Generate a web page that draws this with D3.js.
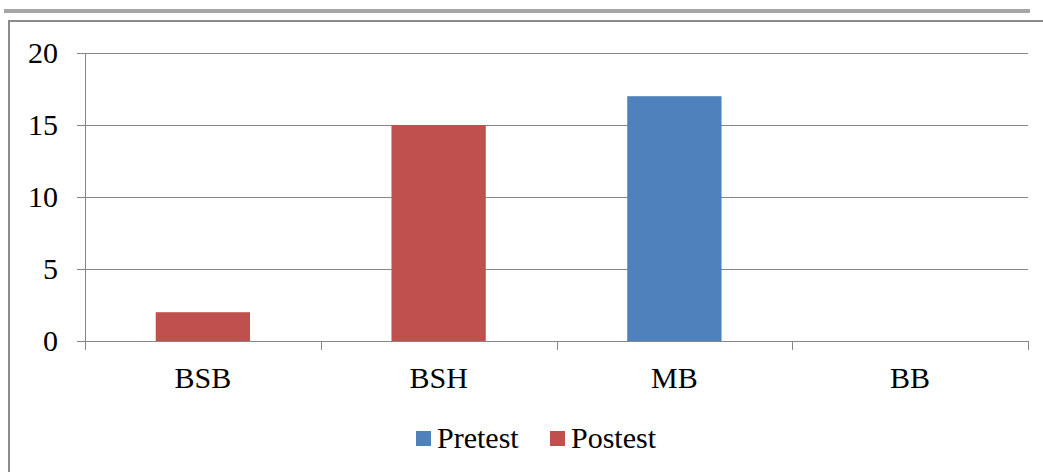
<!DOCTYPE html>
<html>
<head>
<meta charset="utf-8">
<script src="https://cdn.jsdelivr.net/npm/d3@7"></script>
<style>
  html, body { margin: 0; padding: 0; background: #fff; }
  svg { display: block; }
</style>
</head>
<body>
<script>
const categories = ["BSB", "BSH", "MB", "BB"];
const seriesNames = ["Pretest", "Postest"];
const pretest = [0, 0, 17, 0];
const postest = [2, 15, 0, 0];
const yTicks = [0, 5, 10, 15, 20];
const colors = ["#4F81BD", "#C0504D"];

const FONT = "'Liberation Serif'";
const W = 1043, H = 472;
const svg = d3.select("body").append("svg").attr("width", W).attr("height", H);

// outer decorations (document frame)
svg.append("rect").attr("x", 4).attr("y", 9).attr("width", 1026).attr("height", 4).attr("fill", "#a6a6a6");
svg.append("line").attr("x1", 8).attr("x2", W).attr("y1", 21).attr("y2", 21).attr("stroke", "#8a8a8a").attr("stroke-width", 2);
svg.append("line").attr("x1", 9).attr("x2", 9).attr("y1", 20).attr("y2", H).attr("stroke", "#8a8a8a").attr("stroke-width", 2);

const plotL = 85, plotR = 1028, plotT = 53, plotB = 341;

const x = d3.scaleBand().domain(categories).range([plotL, plotR]).paddingInner(0.6).paddingOuter(0.3);
const y = d3.scaleLinear().domain([0, 20]).range([plotB, plotT]);

// gridlines
svg.append("g").selectAll("line").data(yTicks).join("line")
  .attr("x1", plotL).attr("x2", plotR)
  .attr("y1", d => y(d) + 0.5).attr("y2", d => y(d) + 0.5)
  .attr("stroke", "#868686").attr("stroke-width", 1);

// y axis
const yAxis = d3.axisLeft(y).tickValues(yTicks).tickSize(8).tickPadding(19).tickFormat(d3.format("d"));
const gy = svg.append("g").attr("transform", `translate(${plotL},0)`).call(yAxis);
gy.attr("font-family", FONT).attr("font-size", 30);
gy.select(".domain").attr("stroke", "#868686");
gy.selectAll(".tick line").attr("stroke", "#868686");
gy.selectAll(".tick text").attr("font-family", FONT).attr("font-size", 30).attr("fill", "#000");

// stacked bars
const table = categories.map((c, i) => ({ cat: c, Pretest: pretest[i], Postest: postest[i] }));
const stacked = d3.stack().keys(seriesNames)(table);
svg.append("g").selectAll("g").data(stacked).join("g")
  .attr("fill", (d, i) => colors[i])
  .selectAll("rect").data(d => d.filter(v => v[1] - v[0] > 0)).join("rect")
  .attr("x", d => x(d.data.cat))
  .attr("width", x.bandwidth())
  .attr("y", d => y(d[1]))
  .attr("height", d => y(d[0]) - y(d[1]));

// x axis
svg.append("line").attr("x1", plotL).attr("x2", plotR).attr("y1", plotB + 0.5).attr("y2", plotB + 0.5).attr("stroke", "#868686");
const bounds = d3.range(categories.length + 1).map(i => plotL + i * (plotR - plotL) / categories.length);
svg.append("g").selectAll("line").data(bounds).join("line")
  .attr("x1", d => Math.round(d) + 0.5).attr("x2", d => Math.round(d) + 0.5)
  .attr("y1", plotB).attr("y2", plotB + 9).attr("stroke", "#868686");
svg.append("g").selectAll("text").data(categories).join("text")
  .attr("x", d => x(d) + x.bandwidth() / 2)
  .attr("y", 388)
  .attr("text-anchor", "middle")
  .attr("font-family", FONT).attr("font-size", 30)
  .text(d => d);

// legend
const legX = [416, 550];
const lg = svg.append("g").selectAll("g").data(seriesNames).join("g")
  .attr("transform", (d, i) => `translate(${legX[i]},0)`);
lg.append("rect").attr("x", 0).attr("y", 431).attr("width", 15).attr("height", 15).attr("fill", (d, i) => colors[i]);
lg.append("text").attr("x", 21).attr("y", 448)
  .attr("font-family", FONT).attr("font-size", 30).text(d => d);
</script>
</body>
</html>
